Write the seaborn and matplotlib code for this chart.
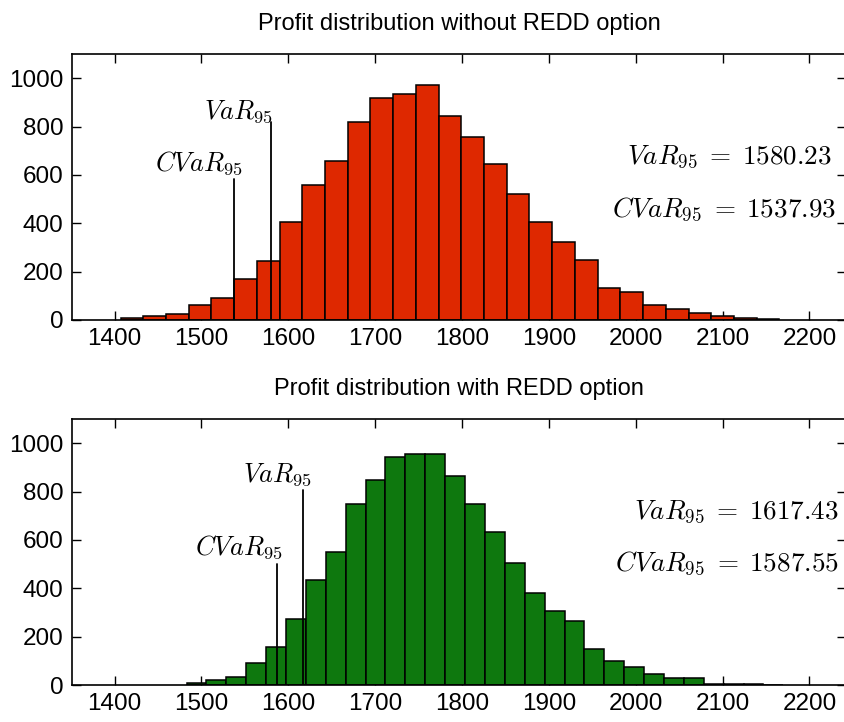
import numpy as np
import pandas as pd
import matplotlib
matplotlib.use("Agg")
import matplotlib.pyplot as plt
import seaborn as sns

# ---- data ----
counts_without = [8, 17, 26, 62, 90, 170, 243, 404, 557, 657, 820, 917, 935, 972,
                  845, 755, 647, 520, 404, 324, 250, 134, 115, 62, 44, 27, 17, 8, 5]
start_without = 1407.0
width_without = 26.15

counts_with = [8, 21, 32, 92, 156, 274, 434, 552, 749, 847, 945, 956, 956, 865,
               749, 632, 503, 382, 307, 265, 148, 101, 76, 45, 28, 28, 5, 4, 3, 2]
start_with = 1482.9
width_with = 22.9

var_without, cvar_without = 1580.23, 1537.93
var_with, cvar_with = 1617.43, 1587.55

titles = ["Profit distribution without REDD option",
          "Profit distribution with REDD option"]
x_ticks = [1400, 1500, 1600, 1700, 1800, 1900, 2000, 2100, 2200]
y_ticks = [0, 200, 400, 600, 800, 1000]

sns.set_style("ticks")
plt.rcParams["font.family"] = ["Liberation Sans", "DejaVu Sans"]
plt.rcParams["mathtext.fontset"] = "cm"
plt.rcParams["text.color"] = "black"

fig = plt.figure(figsize=(8.44, 7.22), dpi=100)
ax_top = fig.add_axes([0.0853, 0.5568, 0.917, 0.3684])
ax_bot = fig.add_axes([0.0853, 0.0512, 0.917, 0.3684])

panels = [
    dict(ax=ax_top, counts=counts_without, start=start_without, width=width_without,
         color="#DE2800", var=var_without, cvar=cvar_without, title=titles[0],
         var_h=820, cvar_h=585, var_txt=(1543, 861), cvar_txt=(1497, 647),
         r_var=(2226, 675), r_cvar=(2231, 460)),
    dict(ax=ax_bot, counts=counts_with, start=start_with, width=width_with,
         color="#0E780E", var=var_with, cvar=cvar_with, title=titles[1],
         var_h=807, cvar_h=499, var_txt=(1587, 869), cvar_txt=(1543, 569),
         r_var=(2234, 717), r_cvar=(2234, 503)),
]

for p in panels:
    ax = p["ax"]
    n = len(p["counts"])
    edges = [p["start"] + p["width"] * i for i in range(n + 1)]
    centers = [(edges[i] + edges[i + 1]) / 2 for i in range(n)]
    df = pd.DataFrame({"profit": centers, "count": p["counts"]})
    sns.histplot(data=df, x="profit", weights="count", bins=edges, ax=ax,
                 color=p["color"], alpha=1.0, edgecolor="black", linewidth=1.1)
    ax.plot([p["var"], p["var"]], [0, p["var_h"]], color="black", lw=1.3)
    ax.plot([p["cvar"], p["cvar"]], [0, p["cvar_h"]], color="black", lw=1.3)
    ax.text(*p["var_txt"], r"$VaR_{95}$", ha="center", va="center", fontsize=19)
    ax.text(*p["cvar_txt"], r"$CVaR_{95}$", ha="center", va="center", fontsize=19)
    ax.text(*p["r_var"], r"$VaR_{95}\;=\;%.2f$" % p["var"], ha="right", va="center", fontsize=19.5)
    ax.text(*p["r_cvar"], r"$CVaR_{95}\;=\;%.2f$" % p["cvar"], ha="right", va="center", fontsize=19.5)

    ax.set_xlim(1351, 2242)
    ax.set_ylim(0, 1100)
    ax.set_xticks(x_ticks)
    ax.set_yticks(y_ticks)
    ax.set_xlabel("")
    ax.set_ylabel("")
    ax.set_title(p["title"], fontsize=17, pad=17, color="black")
    ax.tick_params(direction="in", length=6.5, width=1, labelsize=17.5, pad=6,
                   top=True, right=True, colors="black")
    for s in ax.spines.values():
        s.set_visible(True)
        s.set_linewidth(1.2)
        s.set_color("black")

fig.savefig("out.png", dpi=100)
